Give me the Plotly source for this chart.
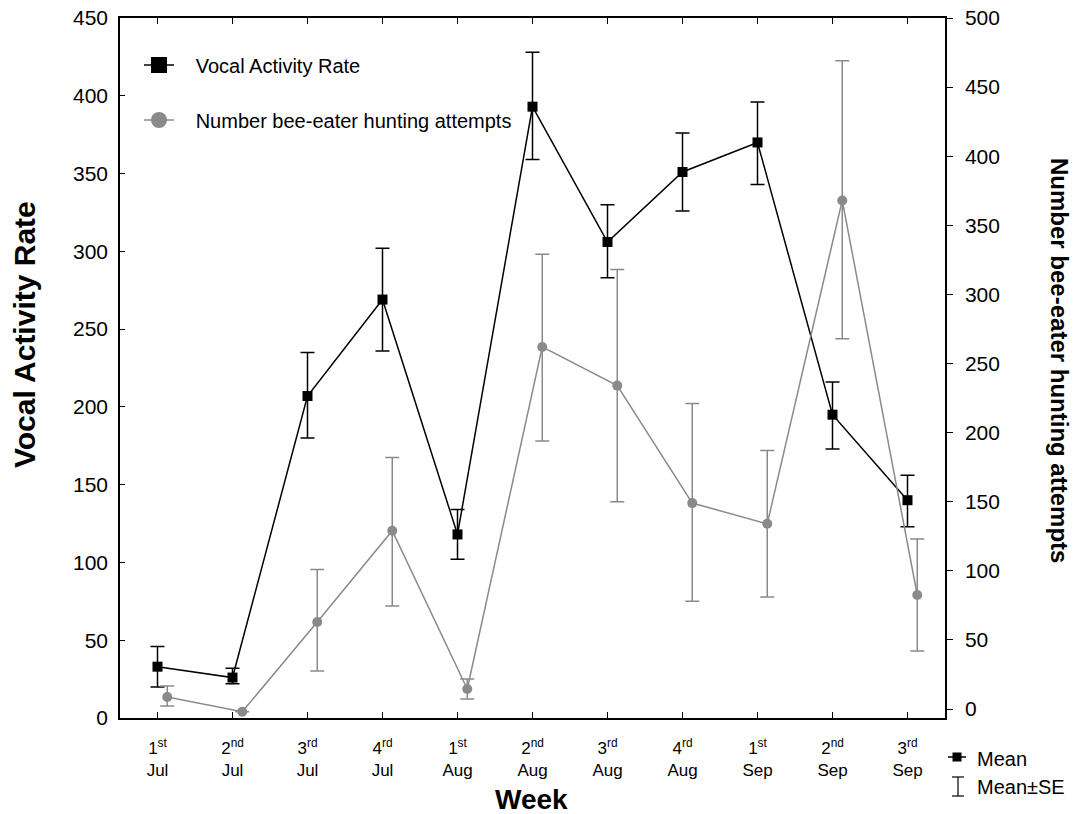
import plotly.graph_objects as go

# ---------------- data ----------------
weeks = ["1<sup>st</sup><br>Jul", "2<sup>nd</sup><br>Jul", "3<sup>rd</sup><br>Jul", "4<sup>rd</sup><br>Jul",
         "1<sup>st</sup><br>Aug", "2<sup>nd</sup><br>Aug", "3<sup>rd</sup><br>Aug", "4<sup>rd</sup><br>Aug",
         "1<sup>st</sup><br>Sep", "2<sup>nd</sup><br>Sep", "3<sup>rd</sup><br>Sep"]
week_pos = list(range(len(weeks)))

vocal_mean = [33, 26, 207, 269, 118, 393, 306, 351, 370, 195, 140]
vocal_upper = [46, 32, 235, 302, 134, 428, 330, 376, 396, 216, 156]
vocal_lower = [20, 22, 180, 236, 102, 359, 283, 326, 343, 173, 123]

hunt_mean = [8.7, -2, 63, 129, 14.5, 262, 234, 149, 134, 368, 82.5]
hunt_upper = [16.6, None, 101, 182, 21.7, 329, 318, 221, 187, 469, 123]
hunt_lower = [2.2, None, 27.5, 74.5, 7.2, 194, 150, 78, 81, 268, 42]

left_ticks = [0, 50, 100, 150, 200, 250, 300, 350, 400, 450]
right_ticks = [0, 50, 100, 150, 200, 250, 300, 350, 400, 450, 500]

hunt_offset = 0.13  # grey series drawn slightly right of the category

FONT = "Liberation Sans, Arial, sans-serif"
BLACK = "#000000"
GREY = "#8a8a8a"
NB = "\u00a0\u00a0\u00a0"

vocal_plus = [u - m for u, m in zip(vocal_upper, vocal_mean)]
vocal_minus = [m - l for m, l in zip(vocal_mean, vocal_lower)]
hunt_plus = [None if u is None else u - m for u, m in zip(hunt_upper, hunt_mean)]
hunt_minus = [None if l is None else m - l for m, l in zip(hunt_mean, hunt_lower)]

fig = go.Figure()

fig.add_trace(go.Scatter(
    x=[p + hunt_offset for p in week_pos], y=hunt_mean, yaxis="y2",
    mode="lines+markers", showlegend=False,
    line=dict(color=GREY, width=1.5),
    marker=dict(symbol="circle", size=10, color=GREY),
    error_y=dict(type="data", array=hunt_plus, arrayminus=hunt_minus,
                 color=GREY, thickness=1.5, width=7),
))

fig.add_trace(go.Scatter(
    x=week_pos, y=vocal_mean, yaxis="y",
    mode="lines+markers", showlegend=False,
    line=dict(color=BLACK, width=1.5),
    marker=dict(symbol="square", size=10, color=BLACK),
    error_y=dict(type="data", array=vocal_plus, arrayminus=vocal_minus,
                 color=BLACK, thickness=1.5, width=7),
))

# legend entries
fig.add_trace(go.Scatter(
    x=[None], y=[None], mode="lines+markers", name=NB + "Vocal Activity Rate",
    line=dict(color=BLACK, width=1.5),
    marker=dict(symbol="square", size=16, color=BLACK), legend="legend",
))
fig.add_trace(go.Scatter(
    x=[None], y=[None], mode="lines+markers", name=NB + "Number bee-eater hunting attempts",
    line=dict(color=GREY, width=1.5),
    marker=dict(symbol="circle", size=16, color=GREY), legend="legend2",
))

W, H = 1074, 814
L, T = 120, 18
pw, ph = 825, 700
R, B = W - L - pw, H - T - ph


def px(x):
    return (x - L) / pw


def py(y):
    return (T + ph - y) / ph


legend_common = dict(bgcolor="rgba(0,0,0,0)", borderwidth=0,
                     font=dict(family=FONT, size=20, color=BLACK),
                     xanchor="left", yanchor="middle")
fig.update_layout(
    width=W, height=H,
    margin=dict(l=L, r=R, t=T, b=B, pad=0),
    paper_bgcolor="white", plot_bgcolor="white",
    font=dict(family=FONT, color=BLACK),
    legend=dict(x=px(139), y=py(65), **legend_common),
    legend2=dict(x=px(139), y=py(120), **legend_common),
    xaxis=dict(
        range=[-0.5, 10.5], tickmode="array", tickvals=week_pos, ticktext=weeks,
        ticks="inside", ticklen=6, tickcolor=BLACK, tickwidth=1,
        showline=True, linecolor=BLACK, linewidth=1.5, mirror="ticks",
        showgrid=False, zeroline=False, automargin=False,
        tickfont=dict(family=FONT, size=17, color=BLACK),
        ticklabelstandoff=14,
    ),
    yaxis=dict(
        range=[0, 450], tickmode="array", tickvals=left_ticks,
        ticks="inside", ticklen=5, tickcolor=BLACK,
        showline=True, linecolor=BLACK, linewidth=1.5,
        showgrid=False, zeroline=False, automargin=False,
        tickfont=dict(family=FONT, size=21, color=BLACK),
        ticklabelstandoff=6,
    ),
    yaxis2=dict(
        range=[-6.5, 500], tickmode="array", tickvals=right_ticks,
        overlaying="y", side="right",
        ticks="outside", ticklen=6, tickcolor=BLACK,
        showline=True, linecolor=BLACK, linewidth=1.5,
        showgrid=False, zeroline=False, automargin=False,
        tickfont=dict(family=FONT, size=21, color=BLACK),
        ticklabelstandoff=8,
    ),
)

annotations = [
    dict(text="<b>Vocal Activity Rate</b>", x=px(24), y=py(335), textangle=-90,
         font=dict(family=FONT, size=30, color=BLACK)),
    dict(text="<b>Number bee-eater hunting attempts</b>", x=px(1060), y=py(360), textangle=90,
         font=dict(family=FONT, size=24, color=BLACK)),
    dict(text="<b>Week</b>", x=px(531), y=py(799),
         font=dict(family=FONT, size=28, color=BLACK)),
    dict(text="Mean", x=px(975), y=py(759), xanchor="left",
         font=dict(family=FONT, size=20, color=BLACK)),
    dict(text="Mean±SE", x=px(975), y=py(787), xanchor="left",
         font=dict(family=FONT, size=20, color=BLACK)),
]
for a in annotations:
    a.update(xref="paper", yref="paper", showarrow=False)
    a.setdefault("xanchor", "center")
    a.setdefault("yanchor", "middle")
fig.update_layout(annotations=annotations)

shapes = [
    # Mean key
    dict(type="line", x0=px(948), x1=px(966), y0=py(757), y1=py(757), line=dict(color=BLACK, width=1.5)),
    dict(type="rect", x0=px(952.5), x1=px(961.5), y0=py(752.5), y1=py(761.5),
         line=dict(color=BLACK, width=0), fillcolor=BLACK),
    # Mean±SE key
    dict(type="line", x0=px(958), x1=px(958), y0=py(777), y1=py(796), line=dict(color=BLACK, width=1.2)),
    dict(type="line", x0=px(952), x1=px(964), y0=py(777), y1=py(777), line=dict(color=BLACK, width=1.2)),
    dict(type="line", x0=px(952), x1=px(964), y0=py(796), y1=py(796), line=dict(color=BLACK, width=1.2)),
]
for s in shapes:
    s.update(xref="paper", yref="paper")
fig.update_layout(shapes=shapes)

fig.write_html("out.html", config={"displayModeBar": False},
               post_script="document.body.style.margin='0';document.body.style.overflow='hidden';")
